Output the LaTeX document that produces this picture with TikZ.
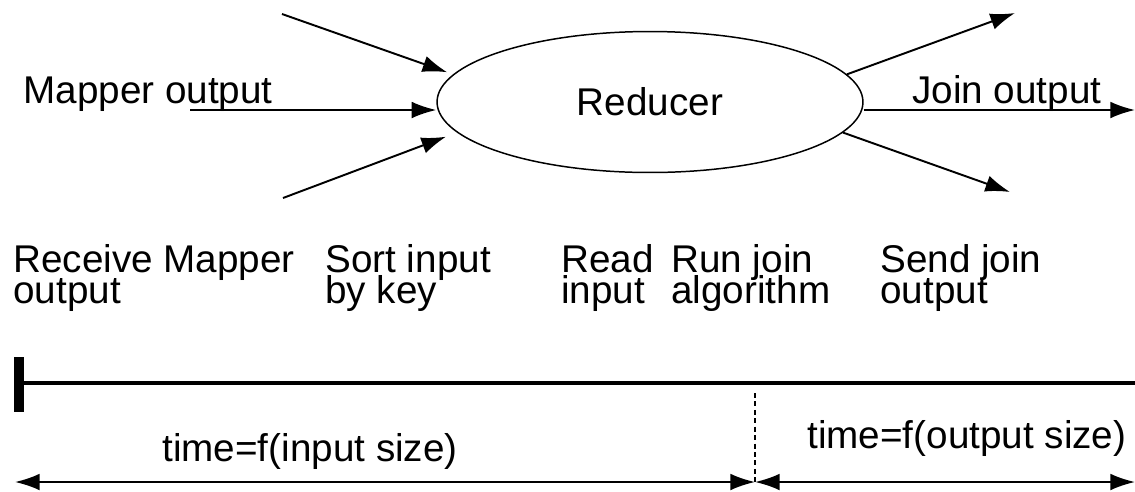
\documentclass[tikz,border=0pt]{standalone}
\usepackage{fontspec}
\setmainfont{Liberation Sans}
\usetikzlibrary{arrows.meta,shapes.geometric}
\newcommand{\bigtxt}{\fontsize{22}{17.6}\selectfont\lineskiplimit=-20pt}

\begin{document}
\begin{tikzpicture}[x=0.02cm, y=-0.02cm, every node/.style={inner sep=0pt, font=\bigtxt}, >={Latex[length=14pt,width=9.5pt]},%
        flow/.style={line width=1.1pt, ->}, stagetxt/.style={anchor=north west, align=left}, txt/.style={anchor=base west}]
        \useasboundingbox (0,0) rectangle (1135,491);
        \node[ellipse, draw, line width=0.85pt, minimum width=8.52cm, minimum height=2.82cm] (reducer) at (650,102) {Reducer};
        \coordinate (inA) at (282,14);
        \coordinate (inB) at (190,110);
        \coordinate (inC) at (283,198);
        \coordinate (outA) at (1015,13);
        \coordinate (outB) at (1135,110);
        \coordinate (outC) at (1010,192);
        \draw[flow, shorten >=0.125cm] (inA) -- (reducer.172.1);
        \draw[flow] (inB) -- (reducer.west |- inB);
        \draw[flow, shorten >=0.234cm] (inC) -- (reducer.189.2);
        \draw[flow] (reducer.8.5) -- (outA);
        \draw[flow] (reducer.east |- outB) -- (outB);
        \draw[flow] (reducer.-9.2) -- (outC);
        \node[txt] (mapout) at (23,103) {Mapper output};
        \node[txt] (joinout) at (912,103) {Join output};

        \node[stagetxt] (recv) at (13,244) {Receive Mapper\\output};
        \node[stagetxt] (sort) at (325,244) {Sort input\\by key};
        \node[stagetxt] (read) at (561,244) {Read\\input};
        \node[stagetxt] (runjoin) at (671,244) {Run join\\algorithm};
        \node[stagetxt] (send) at (880,244) {Send join\\output};

        \coordinate (tlL) at (19,383);
        \coordinate (tlR) at (1135,383);
        \coordinate (barT) at (19,357);
        \coordinate (barB) at (19,412);
        \draw[line width=2.2pt] (tlL) -- (tlR);
        \draw[line width=6.2pt] (barT) -- (barB);
        \coordinate (dimL) at (15,482);
        \coordinate (split) at (755,482);
        \coordinate (splitTop) at (755,393);
        \coordinate (dimR) at (1135,482);
        \draw[line width=0.85pt, dash pattern=on 2.8pt off 2pt] (splitTop) -- (split);
        \draw[line width=1.1pt, <->] (dimL) -- (split);
        \draw[line width=1.1pt, <->] (split) -- (dimR);
        \node[txt] (tin) at (162,461) {time=f(input size)};
        \node[txt] (tout) at (807,448) {time=f(output size)};
    \end{tikzpicture}
\end{document}
